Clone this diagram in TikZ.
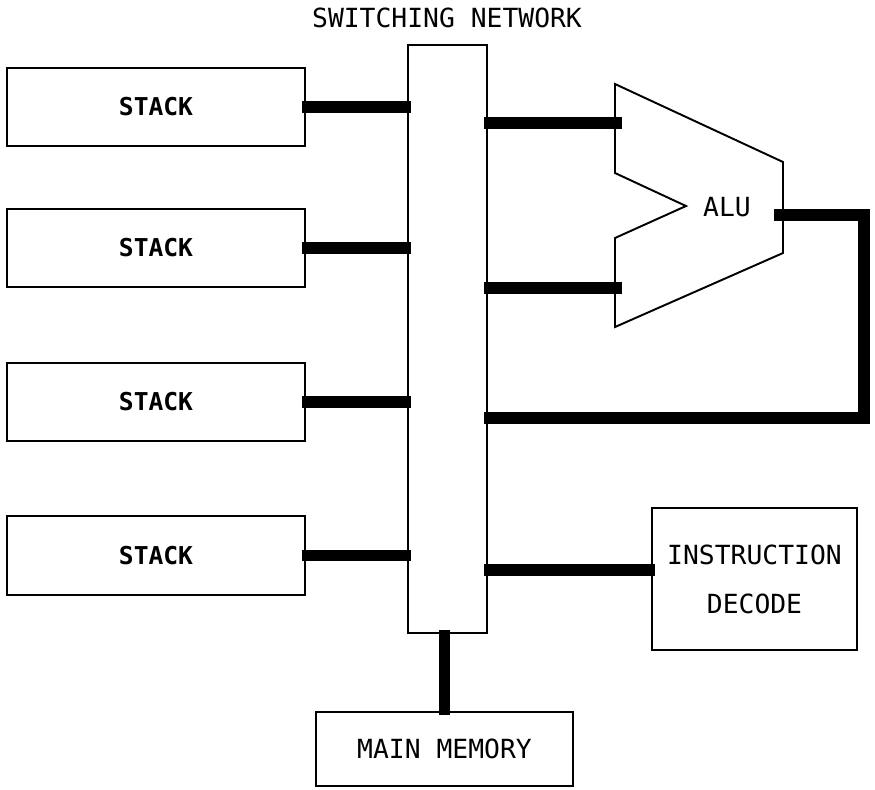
\documentclass[tikz,border=0pt]{standalone}
\usepackage{fontspec}
\setmainfont{DejaVu Sans Mono}
\usetikzlibrary{calc,positioning}

\begin{document}
\begin{tikzpicture}[
  x=0.02cm, y=-0.02cm,
  font=\fontsize{15}{18}\selectfont,
  box/.style={draw=black, line width=1.1pt, inner sep=0pt, align=center},
  stackbox/.style={box, minimum width=5.96cm, minimum height=1.57cm, font=\fontsize{14}{16}\selectfont\bfseries},
  bus/.style={line width=6.4pt, draw=black, shorten <=-2pt, shorten >=-2pt},
  thin/.style={line width=1.1pt, draw=black, line join=miter}
]
\useasboundingbox (0,0) rectangle (875,789);

% switching network
\node[box, minimum width=1.58cm, minimum height=11.76cm] (net) at (447.5,339) {};
\node (title) at (447,18) {SWITCHING NETWORK};

% stacks
\foreach \i/\y in {1/107,2/248,3/402,4/555.5} {
  \node[stackbox] (stack\i) at (156,\y) {STACK};
  \draw[bus] (stack\i.east) -- (net.west |- stack\i.east);
}

% alu
\coordinate (a1) at (615,84);
\coordinate (a2) at (783,162);
\coordinate (a3) at (783,253);
\coordinate (a4) at (615,327);
\coordinate (a5) at (615,238);
\coordinate (a6) at (686,206);
\coordinate (a7) at (615,173);
\draw[thin] (a1) -- (a2) -- (a3) -- (a4) -- (a5) -- (a6) -- (a7) -- cycle;
\node (alu) at (727,207) {ALU};
\coordinate (alu-in1) at (618,123);
\coordinate (alu-in2) at (618,288);
\coordinate (alu-out) at (778,215);
\coordinate (ret) at (864,418);
\draw[bus] (net.east |- alu-in1) -- (alu-in1);
\draw[bus] (net.east |- alu-in2) -- (alu-in2);
\draw[bus, line join=miter] (alu-out) -| (ret) -- (net.east |- ret);

% instruction decode
\node[box, minimum width=4.1cm, minimum height=2.84cm, font=\fontsize{15}{27.8}\selectfont] (dec) at (754.5,579)
  {INSTRUCTION\\DECODE};
\coordinate (dec-in) at (dec.west |- 0,570);
\draw[bus] (net.east |- dec-in) -- (dec-in);

% main memory
\node[box, minimum width=5.14cm, minimum height=1.48cm] (mem) at (444.5,749) {MAIN MEMORY};
\draw[bus] (net.south -| mem.north) -- (mem.north);

\end{tikzpicture}
\end{document}
